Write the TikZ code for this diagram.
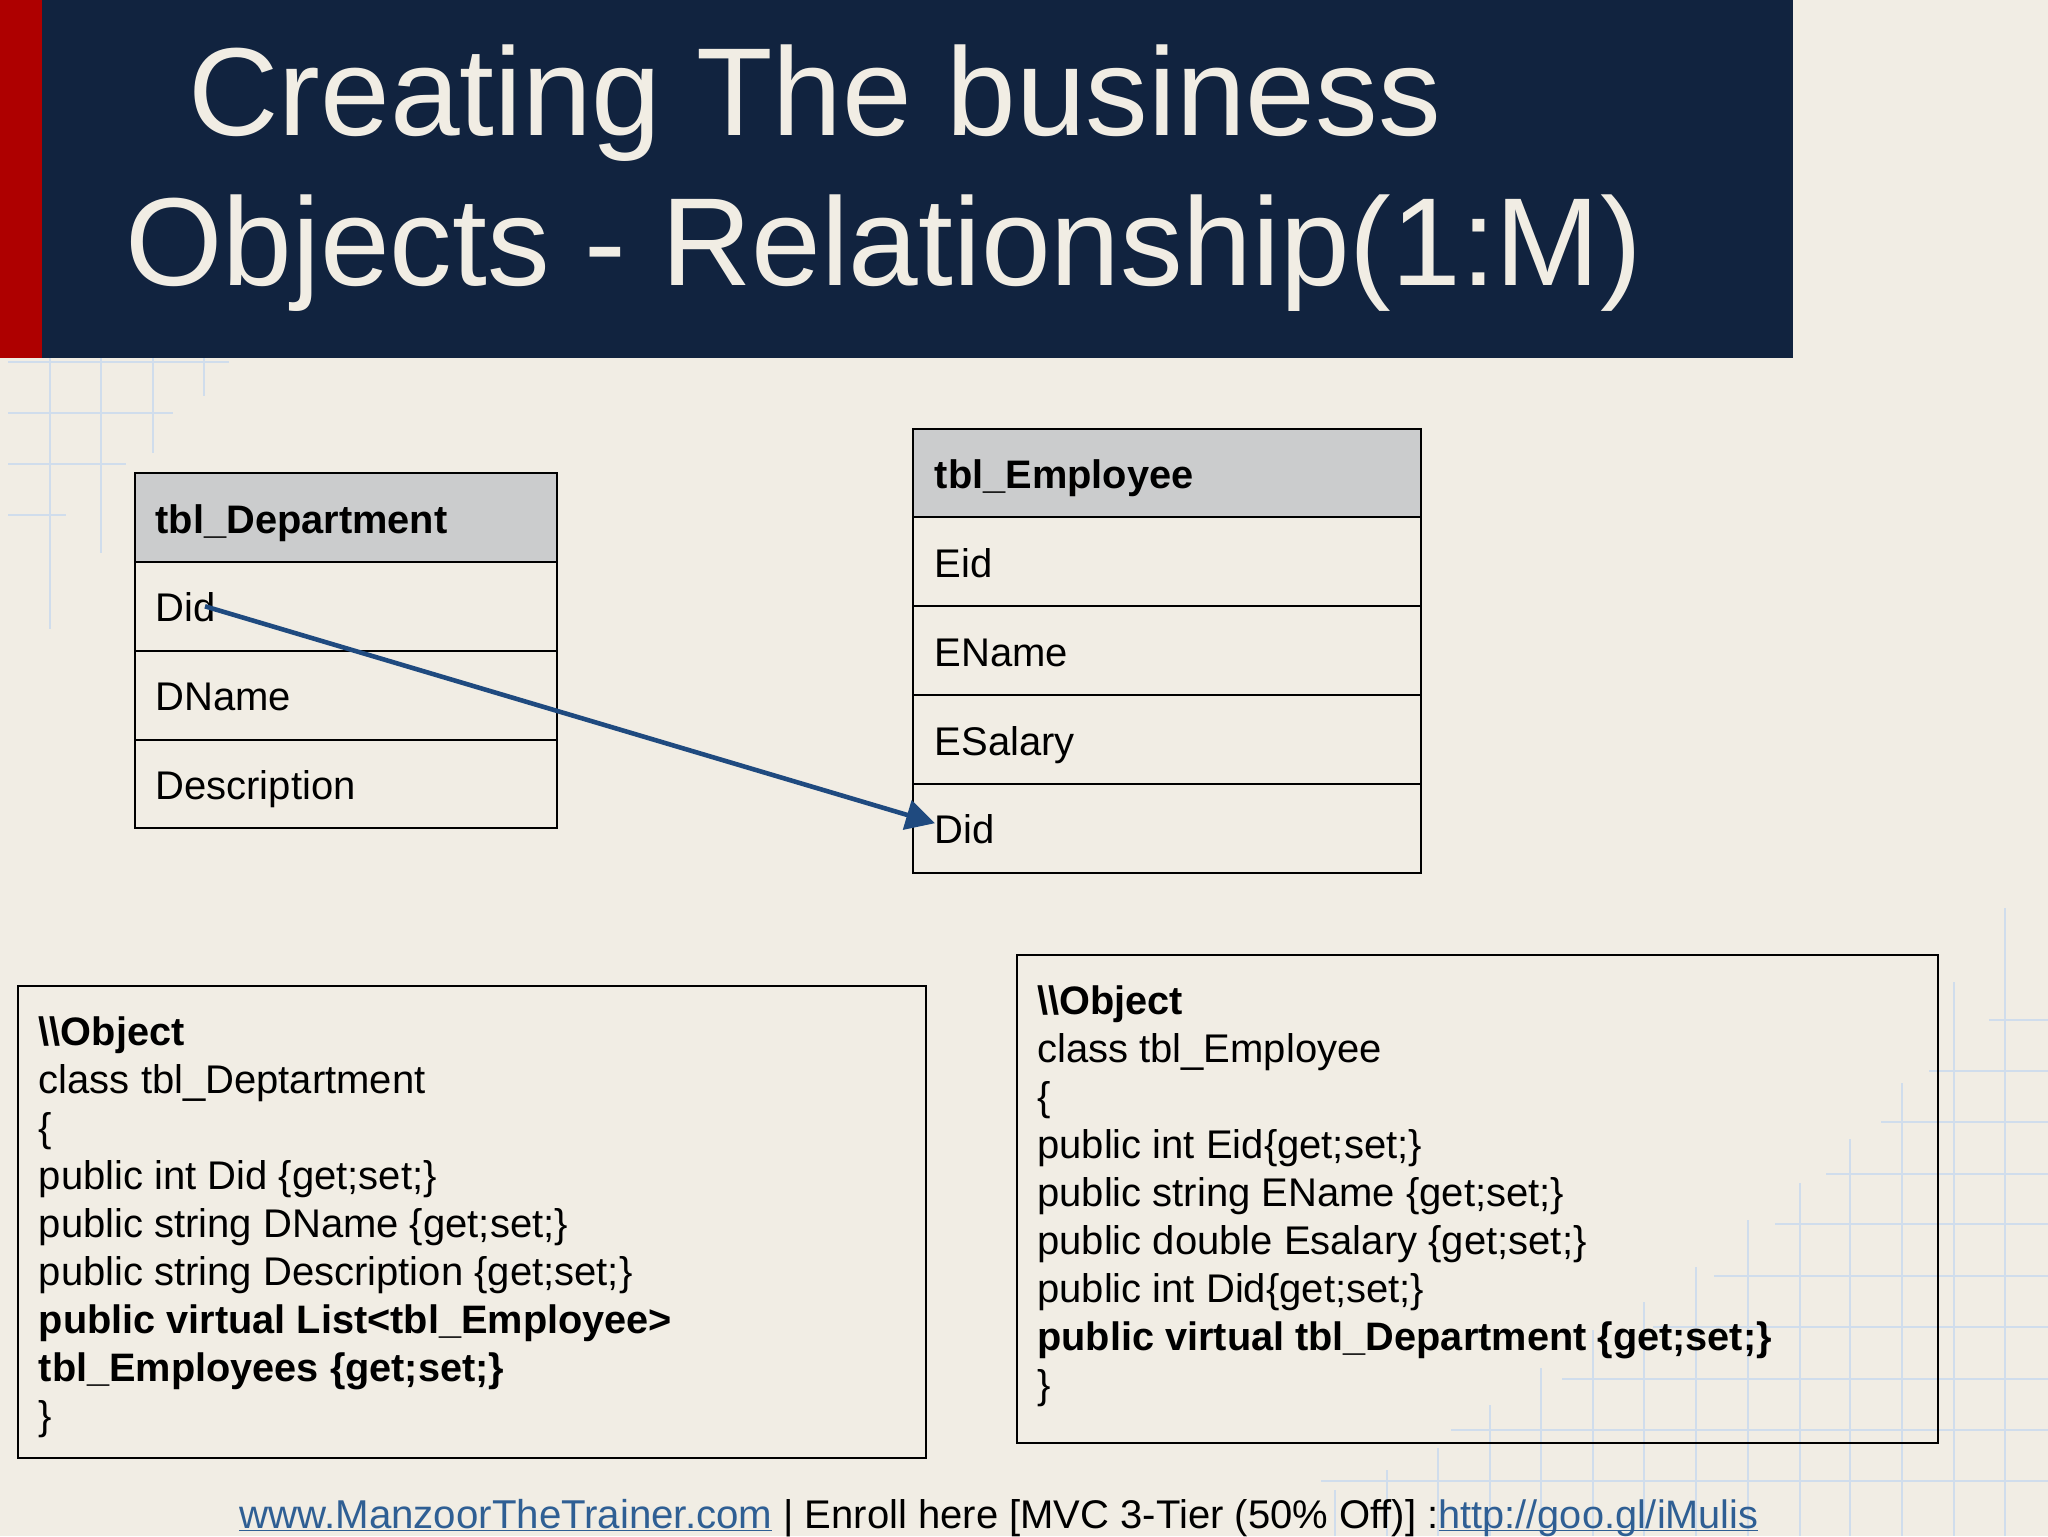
\documentclass[tikz,border=0pt]{standalone}
\usepackage{fontspec}
\setmainfont{Liberation Sans}
\usepackage{tikz}
\usetikzlibrary{positioning,arrows.meta}
\definecolor{paper}{HTML}{F1EDE4}
\definecolor{navy}{HTML}{11233F}
\definecolor{barred}{HTML}{AE0000}
\definecolor{headgray}{HTML}{CBCCCD}
\definecolor{linkblue}{HTML}{2F5F94}
\definecolor{arrowblue}{HTML}{1F4A7F}
\definecolor{gridblue}{HTML}{D0DDEC}
\newcommand{\tbs}{\textbackslash\textbackslash}
\newcommand{\tbold}[1]{{\fontsize{19.85}{24}\selectfont\bfseries #1}}
\newcommand{\tlink}[2]{\textcolor{linkblue}{\fontsize{#1}{24}\selectfont\underline{\smash{#2}}}}

\begin{document}
\begin{tikzpicture}[x=.5pt,y=-.5pt,node distance=44.4pt,on grid,
		row/.style={rectangle,draw=black,line width=1pt,minimum height=44.4pt,inner xsep=10.5pt,inner ysep=0pt,
			align=flush left,text height=15.6pt,text depth=0pt,font=\fontsize{20}{24}\selectfont},
		dptrow/.style={row,minimum width=211.25pt,text width=190.25pt},
		emprow/.style={row,minimum width=254pt,inner xsep=10.9pt,text width=232.2pt},
		headfill/.style={fill=headgray,font=\fontsize{19.9}{24}\selectfont\bfseries},
		objbox/.style={rectangle,draw=black,line width=1pt,inner xsep=10.4pt,inner ysep=0pt,align=flush left,
			font=\fontsize{20}{24}\selectfont},
		gridline/.style={gridblue,line width=1pt},
		link/.style={arrowblue,line width=2.3pt,-{Triangle[length=14.5pt,width=15pt]}}]
		\useasboundingbox (0,0) rectangle (2048,1536);
		\fill[paper] (0,0) rectangle (2048,1536);

		% faint grid, top left and bottom right
		\foreach \gy/\gx in {362/229,413/173,464/126,515/66}
			\draw[gridline] (8,\gy) -- (\gx,\gy);
		\foreach \gx/\gy in {50/629,101/553,153/453,204/396}
			\draw[gridline] (\gx,358) -- (\gx,\gy);
		\foreach \gy/\gx in {1020/1989,1071/1929,1122/1881,1174/1826,1224/1775,1276/1714,1327/1653,1379/1562,1430/1451,1481/1321}
			\draw[gridline] (\gx,\gy) -- (2048,\gy);
		\foreach \gx/\gy in {2005/908,1954/982,1902/1083,1850/1139,1800/1183,1748/1220,1696/1267,1644/1302,1593/1330,1541/1368,1490/1405,1438/1448,1387/1470,1335/1490}
			\draw[gridline] (\gx,\gy) -- (\gx,1536);

		% title band
		\fill[navy] (42,0) rectangle (1793,358);
		\fill[barred] (0,0) rectangle (42,358);
		\node[anchor=north west,inner sep=0pt,align=left,text=paper,font=\fontsize{62.6}{75}\selectfont] (title) at (125,44)
			{\hspace*{31.5pt}Creating The business\\Objects - Relationship(1:M)};

		% department table
		\node[dptrow,headfill] (dptHead) at (345.75,517.5) {tbl\_Department};
		\node[dptrow] (dptDid)  [below=of dptHead] {Did};
		\node[dptrow] (dptName) [below=of dptDid]  {DName};
		\node[dptrow] (dptDesc) [below=of dptName] {Description};

		% employee table
		\node[emprow,headfill] (empHead) at (1167,473) {tbl\_Employee};
		\node[emprow] (empEid)  [below=of empHead] {Eid};
		\node[emprow] (empName) [below=of empEid]  {EName};
		\node[emprow] (empSal)  [below=of empName] {ESalary};
		\node[emprow] (empDid)  [below=of empSal]  {Did};

		\coordinate (dptDidIn) at ([xshift=35.75pt]dptDid.west);
		\coordinate (empDidIn) at ([xshift=11.5pt,yshift=2.5pt]empDid.west);
		\draw[link] (dptDidIn) -- (empDidIn);

		% class boxes
		\node[objbox,minimum width=454pt,minimum height=235.75pt,text width=433.2pt,text height=19.5pt] (dptObj) at (472,1221.75)
			{\tbold{\tbs Object}\\
			class tbl\_Deptartment\\
			\{\\
			public int Did \{get;set;\}\\
			public string DName \{get;set;\}\\
			public string Description \{get;set;\}\\
			\tbold{public virtual List<tbl\_Employee>}\\
			\tbold{tbl\_Employees \{get;set;\}}\\
			\}};
		\node[objbox,minimum width=460.5pt,minimum height=244pt,text width=439.7pt,text depth=199pt] (empObj) at (1477,1199)
			{\tbold{\tbs Object}\\
			class tbl\_Employee\\
			\{\\
			public int Eid\{get;set;\}\\
			public string EName \{get;set;\}\\
			public double Esalary \{get;set;\}\\
			public int Did\{get;set;\}\\
			\tbold{public virtual tbl\_Department \{get;set;\}}\\
			\}};

		% footer
		\node[anchor=base west,inner sep=0pt,font=\fontsize{20}{24}\selectfont] (footer) at (239,1528)
			{\tlink{20.12}{www.ManzoorTheTrainer.com} | Enroll here [MVC 3-Tier (50\% Off)] :\tlink{19.85}{http://goo.gl/iMulis}};
		\end{tikzpicture}
\end{document}
